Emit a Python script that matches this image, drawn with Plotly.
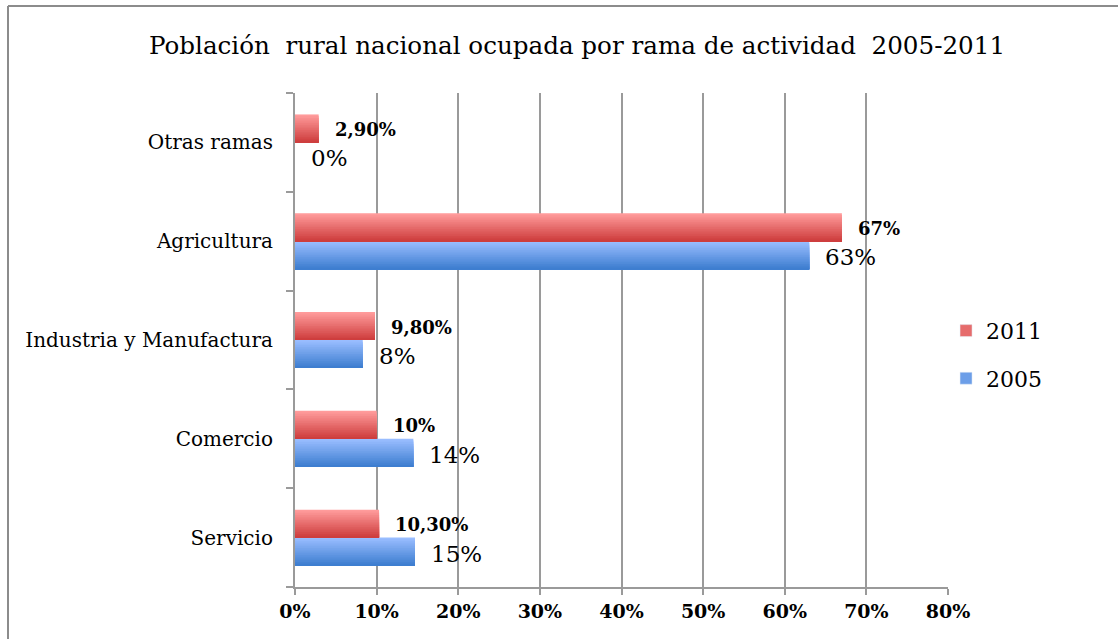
import plotly.graph_objects as go

categories = ["Servicio", "Comercio", "Industria y Manufactura", "Agricultura", "Otras ramas"]
v2011 = [10.3, 10.0, 9.8, 67.0, 2.9]
v2005 = [14.7, 14.5, 8.3, 63.0, 0.0]
labels2011 = ["10,30%", "10%", "9,80%", "67%", "2,90%"]
labels2005 = ["15%", "14%", "8%", "63%", "0%"]
x_ticks = [0, 10, 20, 30, 40, 50, 60, 70, 80]
title_text = "Población  rural nacional ocupada por rama de actividad  2005-2011"

FONT = "DejaVu Serif"
W, H = 1118, 639
ML, MR, MT, MB = 295, 170, 93, 52
PW, PH = W - ML - MR, H - MT - MB

BAR_W = 0.283   # category units
N_STRIPS = 16


def lerp(c1, c2, t):
    return "rgb(%d,%d,%d)" % tuple(round(a + (b - a) * t) for a, b in zip(c1, c2))


series = [
    # name, values, top colour, bottom colour, sign of offset, legend rank
    ("2005", v2005, (153, 189, 255), (62, 126, 208), -1, 2),
    ("2011", v2011, (255, 155, 155), (206, 62, 62), +1, 1),
]

fig = go.Figure()
sw = BAR_W / N_STRIPS
for name, vals, ctop, cbot, sgn, rank in series:
    xs = [v / 100 for v in vals]
    bottom = 0.0 if sgn > 0 else -BAR_W
    for i in range(N_STRIPS):
        # i = 0 covers the whole bar (top colour); later ones cover lower parts
        t = i / (N_STRIPS - 1)
        top = bottom + BAR_W - i * sw
        fig.add_trace(go.Bar(
            y=categories, x=xs, orientation="h",
            offset=bottom, width=top - bottom,
            marker=dict(color=lerp(ctop, cbot, t), line=dict(width=0)),
            showlegend=False, hoverinfo="skip",
        ))
    # legend entry
    fig.add_trace(go.Bar(
        y=[None], x=[None], orientation="h", name=name,
        marker=dict(color=lerp(ctop, cbot, 0.5)),
        showlegend=True, legendrank=rank, legendgroup=name,
    ))

annotations = []
for cat, v, lab in zip(categories, v2011, labels2011):
    annotations.append(dict(x=v / 100, y=cat, xref="x", yref="y", text="<b>%s</b>" % lab,
                            showarrow=False, xanchor="left", yanchor="middle",
                            xshift=14, yshift=13,
                            font=dict(family=FONT, size=18, color="black")))
for cat, v, lab in zip(categories, v2005, labels2005):
    annotations.append(dict(x=v / 100, y=cat, xref="x", yref="y", text=lab,
                            showarrow=False, xanchor="left", yanchor="middle",
                            xshift=14, yshift=-16,
                            font=dict(family=FONT, size=23, color="black")))

# outer chart border (top and left edges visible)
bx = (8 - ML) / PW
by = (H - MB - 6) / PH
shapes = [
    dict(type="line", xref="paper", yref="paper", x0=bx, x1=1.5, y0=by, y1=by,
         line=dict(color="#8c8c8c", width=2)),
    dict(type="line", xref="paper", yref="paper", x0=bx, x1=bx, y0=by, y1=-0.3,
         line=dict(color="#8c8c8c", width=2)),
]

fig.update_layout(
    width=W, height=H,
    margin=dict(l=ML, r=MR, t=MT, b=MB),
    paper_bgcolor="white", plot_bgcolor="white",
    barmode="overlay",
    title=dict(text=title_text, x=577 / W, xanchor="center", y=1 - 45 / H, yanchor="middle",
               yref="container", font=dict(family=FONT, size=24.6, color="black")),
    xaxis=dict(range=[0, 0.8], tickvals=[t / 100 for t in x_ticks], tickformat=".0%",
               showgrid=True, gridcolor="#9a9a9a", gridwidth=2,
               showline=True, linecolor="#9a9a9a", linewidth=2,
               ticks="outside", ticklen=6, tickcolor="#9a9a9a", tickwidth=2,
               tickfont=dict(family=FONT, size=19, color="black", weight="bold"),
               zeroline=False, fixedrange=True),
    yaxis=dict(type="category", categoryorder="array", categoryarray=categories,
               showline=True, linecolor="#9a9a9a", linewidth=2,
               ticks="outside", ticklen=7, tickcolor="#9a9a9a", tickwidth=2,
               tickson="boundaries", showgrid=False,
               tickfont=dict(family=FONT, size=20, color="black"),
               ticklabelstandoff=16, fixedrange=True),
    legend=dict(x=0.997, y=0.47, xanchor="left", yanchor="middle",
                traceorder="grouped", tracegroupgap=16,
                font=dict(family=FONT, size=22, color="black"),
                bgcolor="rgba(0,0,0,0)"),
    annotations=annotations,
    shapes=shapes,
)

fig.write_html("out.html", config={"displayModeBar": False},
               post_script="document.body.style.margin='0';document.body.style.padding='0';")
